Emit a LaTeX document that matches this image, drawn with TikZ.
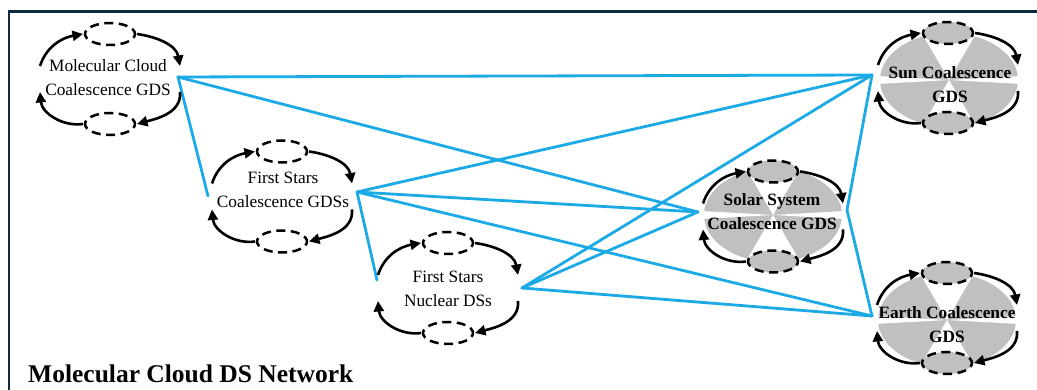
\documentclass[tikz,border=0pt]{standalone}
\usepackage{fontspec}
\setmainfont{Liberation Serif}
\usetikzlibrary{arrows.meta}

\definecolor{linkblue}{RGB}{27,170,230}
\definecolor{framenavy}{RGB}{14,42,64}
\definecolor{gdsgrey}{RGB}{192,192,192}

\tikzset{
  flow/.style={line width=2.6pt, -{Triangle[length=10.5pt,width=10pt]}},
  loopring/.style={line width=2.5pt, dash pattern=on 9pt off 5.5pt, dash phase=3pt},
  link/.style={draw=linkblue, line width=2.8pt, line cap=round, line join=round},
  lbl/.style={align=center, inner sep=0pt, font=\fontsize{17.3}{24}\selectfont},
  blbl/.style={align=center, inner sep=0pt, font=\fontsize{17.3}{24}\selectfont\bfseries},
  frameline/.style={draw=framenavy, line width=2.8pt},
}

% a dynamical-system loop: two dashed states joined by four arrows
\newcommand\dsloop[3][white]{%
  \begin{scope}[shift={(#2,#3)}]
    \draw[loopring, fill=#1] (0,45) ellipse (25 and 11);
    \draw[loopring, fill=#1] (0,-45) ellipse (25 and 11);
    \draw[flow] (-70,13) to[out=72,in=190] (-27,45);
    \draw[flow] (27,45) to[out=-8,in=100] (70,13);
    \draw[flow] (70,-13) to[out=-85,in=15] (27,-45);
    \draw[flow] (-27,-45) to[out=188,in=-85] (-70,-13);
  \end{scope}}

% grey background of a coalescence GDS
\newcommand\gdsshade[2]{%
  \begin{scope}[shift={(#1,#2)}]
    \fill[gdsgrey] (0,0) ellipse (69 and 47);
    \fill[white] (0,0) -- (-28,48) -- (28,48) -- cycle;
    \fill[white] (0,0) -- (-28,-48) -- (28,-48) -- cycle;
    \fill[white] (0,0) -- (-72,4) -- (-72,-4) -- cycle;
    \fill[white] (0,0) -- (72,4) -- (72,-4) -- cycle;
  \end{scope}}

\begin{document}
\begin{tikzpicture}[x=1pt,y=1pt]
\useasboundingbox (0,0) rectangle (1037,390);
\fill[white] (0,0) rectangle (1037,390);

% frame
\draw[frameline] (9,0) -- (9,378.7) -- (1037,378.7);

% connector end points
\coordinate (mc-r) at (178,313);
\coordinate (fsc-l) at (208,194);
\coordinate (fsc-r) at (357,198);
\coordinate (fnd-l) at (377,110);
\coordinate (fnd-r) at (522,102);
\coordinate (ss-l) at (698,178);
\coordinate (ss-r) at (847,180);
\coordinate (sun-l) at (872,315);
\coordinate (earth-l) at (872,74);

% links between the systems
\draw[link] (fsc-l) -- (mc-r) -- (sun-l);
\draw[link] (mc-r) -- (ss-l);
\draw[link] (fnd-l) -- (fsc-r) -- (sun-l);
\draw[link] (fsc-r) -- (ss-l);
\draw[link] (fsc-r) -- (earth-l);
\draw[link] (fnd-r) -- (ss-l);
\draw[link] (fnd-r) -- (sun-l);
\draw[link] (fnd-r) -- (earth-l);
\draw[link] (sun-l) -- (ss-r) -- (earth-l);

% shaded systems
\gdsshade{773}{175}
\gdsshade{949}{310}
\gdsshade{947}{70}

% loops
\dsloop{110}{311}
\dsloop{282}{193.5}
\dsloop{448}{102}
\dsloop[gdsgrey]{773}{173.5}
\dsloop[gdsgrey]{948}{312}
\dsloop[gdsgrey]{947}{72}

% labels
\node[lbl] (mc) at (108,312) {Molecular Cloud\\Coalescence GDS};
\node[lbl] (fsc) at (283,200) {First Stars\\Coalescence GDSs};
\node[lbl] (fnd) at (448,101.5) {First Stars\\Nuclear DSs};
\node[blbl] (ss) at (772,178) {Solar System\\Coalescence GDS};
\node[blbl] (sun) at (950,305.5) {Sun Coalescence\\GDS};
\node[blbl] (earth) at (947,65.5) {Earth Coalescence\\GDS};

\node[font=\fontsize{25.5}{30}\selectfont\bfseries, anchor=base west, inner sep=0pt] (title) at (28,7) {Molecular Cloud DS Network};
\end{tikzpicture}
\end{document}
